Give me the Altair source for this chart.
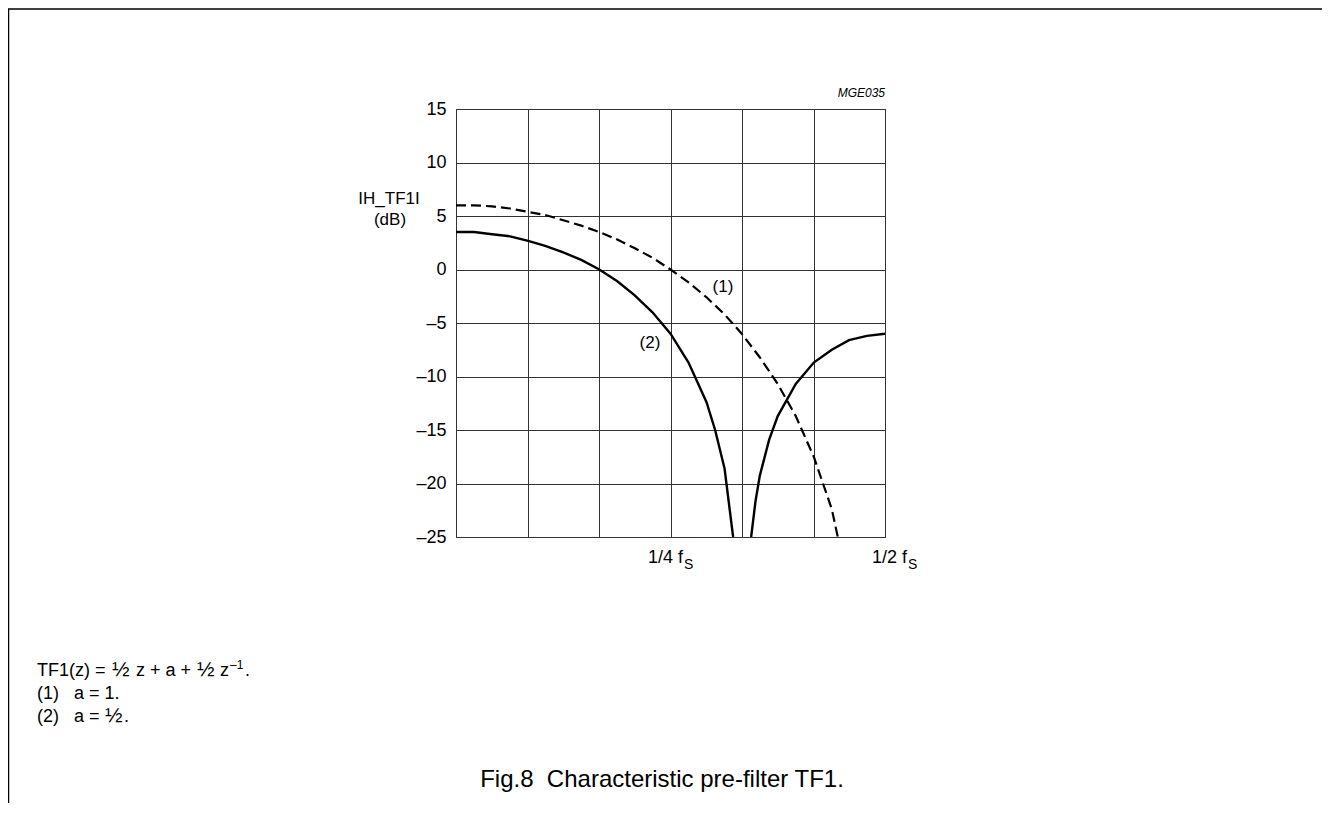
import altair as alt
import pandas as pd

# ---- data ----
x_grid = [0, 1/12, 2/12, 3/12, 4/12, 5/12, 6/12]
y_ticks = [-25, -20, -15, -10, -5, 0, 5, 10, 15]

# curve (1) a = 1 (dashed)
f1 = [0.0, 0.021, 0.042, 0.063, 0.083, 0.104, 0.125, 0.146, 0.167, 0.188, 0.208,
      0.229, 0.25, 0.271, 0.292, 0.313, 0.333, 0.354, 0.375, 0.396, 0.417, 0.438, 0.445]
db1 = [6.0, 6.0, 5.9, 5.7, 5.4, 5.1, 4.6, 4.1, 3.5, 2.8, 2.0,
       1.1, 0.0, -1.2, -2.6, -4.2, -6.0, -8.2, -10.7, -13.7, -17.5, -22.4, -25.0]

# curve (2) a = 1/2 (solid), two branches around the notch
f2a = [0.0, 0.021, 0.042, 0.063, 0.083, 0.104, 0.125, 0.146, 0.167, 0.188, 0.208,
       0.229, 0.25, 0.271, 0.292, 0.302, 0.313, 0.323]
db2a = [3.5, 3.5, 3.3, 3.1, 2.7, 2.2, 1.6, 0.9, 0.0, -1.1, -2.4,
        -4.0, -6.0, -8.7, -12.4, -15.0, -18.6, -25.0]
f2b = [0.344, 0.349, 0.354, 0.365, 0.375, 0.396, 0.417, 0.438, 0.458, 0.479, 0.5]
db2b = [-25.0, -21.7, -19.3, -15.9, -13.7, -10.7, -8.7, -7.5, -6.6, -6.2, -6.0]

FONT = "Liberation Sans"
NB = "\u00a0"

d1 = pd.DataFrame({"f": f1, "db": db1, "branch": "1"})
d2 = pd.concat([
    pd.DataFrame({"f": f2a, "db": db2a, "branch": "2a"}),
    pd.DataFrame({"f": f2b, "db": db2b, "branch": "2b"}),
])

xscale = alt.Scale(domain=[0, 0.5], nice=False, zero=False)
yscale = alt.Scale(domain=[-25, 15], nice=False, zero=False)

xaxis = alt.Axis(values=x_grid, grid=True, labels=False, ticks=False, domain=False,
                 title=None, gridColor="#333", gridWidth=1, gridOpacity=1)
yaxis = alt.Axis(values=y_ticks, grid=True, ticks=False, domain=False, title=None,
                 gridColor="#333", gridWidth=1, gridOpacity=1,
                 labelFont=FONT, labelFontSize=18, labelColor="#000", labelPadding=10,
                 labelExpr="datum.value < 0 ? '\u2013' + abs(datum.value) : '' + datum.value")

dashed = alt.Chart(d1).mark_line(color="black", strokeWidth=2.2, strokeDash=[10, 5], clip=True).encode(
    x=alt.X("f:Q", scale=xscale, axis=xaxis),
    y=alt.Y("db:Q", scale=yscale, axis=yaxis),
    detail="branch:N",
)
solid = alt.Chart(d2).mark_line(color="black", strokeWidth=2.4, clip=True).encode(
    x=alt.X("f:Q", scale=xscale),
    y=alt.Y("db:Q", scale=yscale),
    detail="branch:N",
)

OX, OY = 456, 109  # plot origin on page


def txt(text, px, py, size=18, align="left", style="normal"):
    return alt.Chart(pd.DataFrame({"t": [text]})).mark_text(
        text=text, font=FONT, fontSize=size, align=align, baseline="alphabetic",
        fontStyle=style, color="black"
    ).encode(x=alt.value(px - OX), y=alt.value(py - OY))


def rule(x1, y1, x2, y2):
    return alt.Chart(pd.DataFrame({"a": [0]})).mark_rule(color="black", strokeWidth=1.5).encode(
        x=alt.value(x1 - OX), x2=alt.value(x2 - OX), y=alt.value(y1 - OY), y2=alt.value(y2 - OY)
    )


annotations = [
    txt("MGE035", 885, 97, size=12, align="right", style="italic"),
    txt("IH_TF1I", 389, 204, size=17, align="center"),
    txt("(dB)", 390, 225, size=17, align="center"),
    txt("(1)", 723, 292, size=17, align="center"),
    txt("(2)", 650, 348, size=17, align="center"),
    txt("1/4 f", 648, 563, size=18),
    txt("S", 684, 569, size=14),
    txt("1/2 f", 872, 563, size=18),
    txt("S", 908, 569, size=14),
    # formula line
    txt("TF1(z) =", 37, 676),
    txt("\u00bd", 112, 676, size=21),
    txt("z + a +", 136, 676),
    txt("\u00bd", 197, 676, size=21),
    txt("z", 220, 676),
    txt("\u20131", 230, 669, size=12),
    txt(".", 245, 676),
    txt("(1)" + NB * 3 + "a = 1.", 37, 699),
    txt("(2)" + NB * 3 + "a =", 37, 722),
    txt("\u00bd", 105, 722, size=21),
    txt(".", 124, 722),
    txt("Fig.8" + NB * 2 + "Characteristic pre-filter TF1.", 662, 787, size=24, align="center"),
    rule(8.5, 9, 8.5, 803),
    rule(8, 9, 1326.5, 9),
    rule(1326.5, 9, 1326.5, 803),
]

chart = alt.layer(dashed, solid, *annotations).properties(
    width=429, height=428,
    autosize=alt.AutoSizeParams(type="none"),
    padding={"left": 448, "top": 101, "right": 437, "bottom": 266},
).configure_view(stroke="black", strokeWidth=1)

chart.save("out.html", embed_options={"renderer": "svg", "actions": False})
